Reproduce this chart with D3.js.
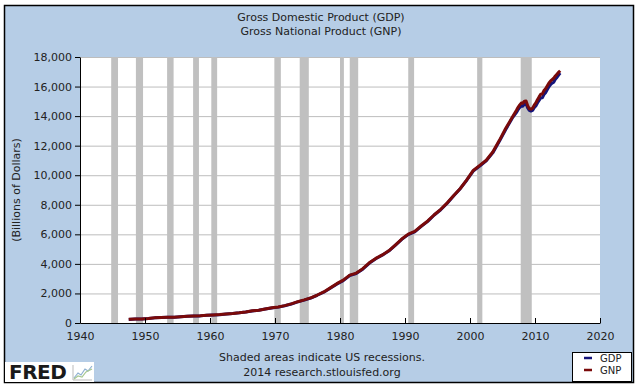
<!DOCTYPE html>
<html>
<head>
<meta charset="utf-8">
<script src="https://cdn.jsdelivr.net/npm/d3@7/dist/d3.min.js"></script>
<style>
  body { margin: 0; background: #fff; }
  svg { display: block; font-family: "DejaVu Sans", Verdana, sans-serif; }
  .axis text { font-size: 11px; fill: #222; font-family: "DejaVu Sans", Verdana, sans-serif; }
  .axis path, .axis line { stroke: #000; }
  .grid line { stroke: #bdbdbd; }
  .grid path { stroke: none; }
</style>
</head>
<body>
<div id="chart"></div>
<script>
// Annual values 1947-2006, then quarterly 2007-2013 (billions of dollars)
var DATES = [
  1947.5, 1948.5, 1949.5, 1950.5, 1951.5, 1952.5, 1953.5, 1954.5, 1955.5, 1956.5,
  1957.5, 1958.5, 1959.5, 1960.5, 1961.5, 1962.5, 1963.5, 1964.5, 1965.5, 1966.5,
  1967.5, 1968.5, 1969.5, 1970.5, 1971.5, 1972.5, 1973.5, 1974.5, 1975.5, 1976.5,
  1977.5, 1978.5, 1979.5, 1980.5, 1981.5, 1982.5, 1983.5, 1984.5, 1985.5, 1986.5,
  1987.5, 1988.5, 1989.5, 1990.5, 1991.5, 1992.5, 1993.5, 1994.5, 1995.5, 1996.5,
  1997.5, 1998.5, 1999.5, 2000.5, 2001.5, 2002.5, 2003.5, 2004.5, 2005.5, 2006.5,
  2007.125, 2007.375, 2007.625, 2007.875, 2008.125, 2008.375, 2008.625, 2008.875,
  2009.125, 2009.375, 2009.625, 2009.875, 2010.125, 2010.375, 2010.625, 2010.875,
  2011.125, 2011.375, 2011.625, 2011.875, 2012.125, 2012.375, 2012.625, 2012.875,
  2013.125, 2013.375, 2013.625, 2013.875
];

var GDP = [
  244, 270, 272, 300, 347, 367, 389, 391, 426, 449,
  474, 482, 522, 543, 563, 605, 638, 686, 744, 815,
  862, 943, 1019, 1075, 1168, 1282, 1429, 1549, 1689, 1878,
  2086, 2357, 2632, 2863, 3211, 3345, 3638, 4041, 4347, 4590,
  4870, 5253, 5658, 5980, 6174, 6539, 6879, 7309, 7664, 8100,
  8609, 9089, 9661, 10285, 10622, 10978, 11511, 12275, 13094, 13856,
  14233, 14422, 14570, 14685, 14670, 14817, 14844, 14550,
  14383, 14340, 14384, 14566, 14681, 14888, 15058, 15231,
  15238, 15461, 15587, 15785, 15973, 16121, 16227, 16297,
  16500, 16620, 16780, 16920
];

var GNP = [
  246, 272, 274, 302, 350, 370, 392, 394, 429, 453,
  478, 486, 526, 548, 568, 611, 644, 692, 751, 822,
  869, 950, 1026, 1082, 1176, 1291, 1442, 1564, 1701, 1894,
  2104, 2377, 2662, 2897, 3244, 3378, 3672, 4071, 4372, 4607,
  4885, 5275, 5680, 6018, 6200, 6565, 6906, 7326, 7694, 8132,
  8631, 9101, 9688, 10323, 10668, 11015, 11574, 12343, 13180, 13916,
  14382, 14580, 14745, 14880, 14870, 15015, 15030, 14700,
  14500, 14470, 14530, 14740, 14890, 15110, 15300, 15480,
  15500, 15730, 15850, 16040, 16230, 16370, 16470, 16560,
  16720, 16840, 16960, 17070
];

// US recessions (start, end) as decimal years
var RECESSIONS = [
  [1944.8, 1945.85], [1948.6, 1949.7], [1953.4, 1954.4], [1957.4, 1958.3],
  [1960.2, 1961.1], [1969.9, 1970.9], [1973.8, 1975.2], [1980.0, 1980.6],
  [1981.5, 1982.8], [1990.5, 1991.4], [2001.1, 2001.9], [2007.8, 2009.5]
];

var X_TICKS = [1940, 1950, 1960, 1970, 1980, 1990, 2000, 2010, 2020];
var Y_TICKS = [0, 2000, 4000, 6000, 8000, 10000, 12000, 14000, 16000, 18000];

var SERIES = [
  { name: "GDP", values: GDP, color: "#14147a" },
  { name: "GNP", values: GNP, color: "#7a0a0a" }
];

var render = function() {
  var width = 642;
  var height = 392;
  var margins = { top: 57, right: 42, bottom: 69, left: 80 };
  var chartWidth = width - margins.left - margins.right;
  var chartHeight = height - margins.top - margins.bottom;

  var svg = d3.select("#chart")
    .append("svg")
    .attr("width", width)
    .attr("height", height);

  // Outer panel
  svg.append("rect")
    .attr("x", 4.5).attr("y", 5.5)
    .attr("width", 629).attr("height", 377)
    .attr("fill", "#b6cde6")
    .attr("stroke", "#000")
    .attr("stroke-width", 1.5);

  // Titles
  var titles = ["Gross Domestic Product (GDP)", "Gross National Product (GNP)"];
  svg.selectAll(".title")
    .data(titles)
    .enter()
    .append("text")
    .attr("class", "title")
    .attr("x", 321)
    .attr("y", (d, i) => 21 + i * 14)
    .attr("text-anchor", "middle")
    .attr("font-size", 11)
    .attr("fill", "#222")
    .text(d => d);

  var xScale = d3.scaleLinear()
    .domain([1940, 2020])
    .range([0, chartWidth]);

  var yScale = d3.scaleLinear()
    .domain([0, 18000])
    .range([chartHeight, 0]);

  var chartElement = svg.append("g")
    .attr("transform", `translate(${margins.left},${margins.top})`);

  chartElement.append("rect")
    .attr("width", chartWidth)
    .attr("height", chartHeight)
    .attr("fill", "#fff");

  // Grid
  chartElement.append("g")
    .attr("class", "grid")
    .call(d3.axisLeft(yScale)
      .tickValues(Y_TICKS)
      .tickSize(-chartWidth)
      .tickFormat(""));

  // Recession bands
  chartElement.append("g")
    .selectAll("rect")
    .data(RECESSIONS)
    .enter()
    .append("rect")
    .attr("x", d => xScale(d[0]))
    .attr("width", d => xScale(d[1]) - xScale(d[0]))
    .attr("y", 0)
    .attr("height", chartHeight)
    .attr("fill", "#c0c0c0");

  // Lines
  var line = d3.line()
    .x((d, i) => xScale(DATES[i]))
    .y(d => yScale(d));

  chartElement.append("g")
    .selectAll("path")
    .data(SERIES)
    .enter()
    .append("path")
    .attr("fill", "none")
    .attr("stroke", d => d.color)
    .attr("stroke-width", 3)
    .attr("stroke-linejoin", "round")
    .attr("d", d => line(d.values));

  // Axes
  chartElement.append("g")
    .attr("class", "x axis")
    .attr("transform", `translate(0,${chartHeight})`)
    .call(d3.axisBottom(xScale)
      .tickValues(X_TICKS)
      .tickSizeInner(-5)
      .tickSizeOuter(0)
      .tickPadding(9)
      .tickFormat(d3.format("d")));

  chartElement.append("g")
    .attr("class", "y axis")
    .call(d3.axisLeft(yScale)
      .tickValues(Y_TICKS)
      .tickSizeInner(5)
      .tickSizeOuter(0)
      .tickPadding(3)
      .tickFormat(d3.format(",")));

  // Y axis label
  svg.append("text")
    .attr("transform", "translate(20,190) rotate(-90)")
    .attr("text-anchor", "middle")
    .attr("font-size", 11)
    .attr("fill", "#222")
    .text("(Billions of Dollars)");

  // Footer
  var notes = ["Shaded areas indicate US recessions.", "2014 research.stlouisfed.org"];
  svg.selectAll(".note")
    .data(notes)
    .enter()
    .append("text")
    .attr("class", "note")
    .attr("x", 322)
    .attr("y", (d, i) => 361 + i * 15)
    .attr("text-anchor", "middle")
    .attr("font-size", 11)
    .attr("fill", "#222")
    .text(d => d);

  // FRED logo
  var logo = svg.append("g");
  logo.append("rect")
    .attr("x", 5).attr("y", 362)
    .attr("width", 89).attr("height", 20)
    .attr("fill", "#fff");
  logo.append("text")
    .attr("x", 9).attr("y", 379)
    .attr("font-size", 20)
    .attr("font-weight", "bold")
    .attr("letter-spacing", -0.5)
    .attr("fill", "#1a1a1a")
    .text("FRED");
  logo.append("path")
    .attr("d", "M73,380 L92,380 M73,380 L73,365")
    .attr("stroke", "#bbb")
    .attr("fill", "none");
  logo.append("path")
    .attr("d", "M74,378 L78,373 L81,375 L85,369 L88,371 L92,366")
    .attr("stroke", "#8fb0d0")
    .attr("stroke-width", 1.2)
    .attr("fill", "none");
  logo.append("path")
    .attr("d", "M74,379 L78,376 L82,377 L86,372 L92,369")
    .attr("stroke", "#a8c890")
    .attr("stroke-width", 1.2)
    .attr("fill", "none");

  // Legend
  var legend = svg.append("g");
  legend.append("rect")
    .attr("x", 572.5).attr("y", 352.5)
    .attr("width", 59).attr("height", 29)
    .attr("fill", "#fff")
    .attr("stroke", "#000");

  var items = legend.selectAll(".item")
    .data(SERIES)
    .enter()
    .append("g")
    .attr("class", "item")
    .attr("transform", (d, i) => `translate(0,${358 + i * 12})`);

  items.append("line")
    .attr("x1", 584).attr("x2", 592)
    .attr("stroke", d => d.color)
    .attr("stroke-width", 2.5);

  items.append("text")
    .attr("x", 600)
    .attr("y", 4)
    .attr("font-size", 10)
    .attr("fill", "#222")
    .text(d => d.name);
};

render();
</script>
</body>
</html>
